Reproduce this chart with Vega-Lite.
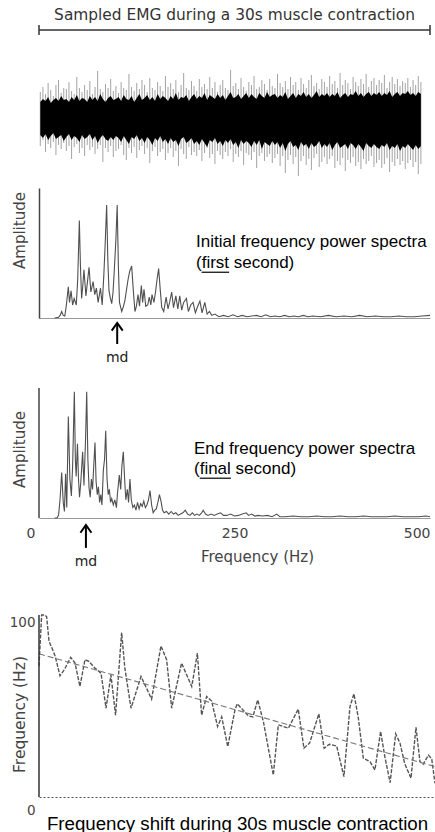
{
  "$schema": "https://vega.github.io/schema/vega-lite/v6.json",
  "padding": {"left": 9, "top": 0, "right": 0, "bottom": 0},
  "spacing": 6,
  "bounds": "flush",
  "config": {"view": {"stroke": null}, "axis": {"grid": false, "titleFontWeight": "normal"}},
  "datasets": {
    "emg": [
      {"t":0.1,"hi":26,"lo":-28,"ch":16,"cl":-17},{"t":0.3,"hi":31,"lo":-22,"ch":19,"cl":-20},{"t":0.5,"hi":24,"lo":-34,"ch":17,"cl":-16},{"t":0.7,"hi":35,"lo":-26,"ch":21,"cl":-22},{"t":0.9,"hi":28,"lo":-30,"ch":15,"cl":-18},{"t":1.1,"hi":22,"lo":-24,"ch":18,"cl":-15},{"t":1.3,"hi":33,"lo":-37,"ch":20,"cl":-21},{"t":1.5,"hi":38,"lo":-27,"ch":17,"cl":-19},{"t":1.7,"hi":25,"lo":-31,"ch":22,"cl":-17},{"t":1.9,"hi":30,"lo":-25,"ch":18,"cl":-23},
      {"t":2.1,"hi":29,"lo":-33,"ch":19,"cl":-19},{"t":2.3,"hi":36,"lo":-28,"ch":16,"cl":-16},{"t":2.5,"hi":27,"lo":-41,"ch":21,"cl":-22},{"t":2.7,"hi":24,"lo":-29,"ch":18,"cl":-18},{"t":2.9,"hi":41,"lo":-26,"ch":23,"cl":-20},{"t":3.1,"hi":30,"lo":-35,"ch":17,"cl":-24},{"t":3.3,"hi":26,"lo":-30,"ch":20,"cl":-17},{"t":3.5,"hi":33,"lo":-38,"ch":19,"cl":-21},{"t":3.7,"hi":28,"lo":-27,"ch":16,"cl":-19},{"t":3.9,"hi":37,"lo":-32,"ch":22,"cl":-16},
      {"t":4.1,"hi":24,"lo":-29,"ch":18,"cl":-22},{"t":4.3,"hi":31,"lo":-36,"ch":21,"cl":-18},{"t":4.5,"hi":47,"lo":-31,"ch":17,"cl":-25},{"t":4.7,"hi":29,"lo":-27,"ch":24,"cl":-20},{"t":4.9,"hi":26,"lo":-44,"ch":19,"cl":-17},{"t":5.1,"hi":34,"lo":-30,"ch":16,"cl":-21},{"t":5.3,"hi":30,"lo":-34,"ch":20,"cl":-23},{"t":5.5,"hi":39,"lo":-28,"ch":22,"cl":-19},{"t":5.7,"hi":27,"lo":-39,"ch":18,"cl":-22},{"t":5.9,"hi":32,"lo":-33,"ch":19,"cl":-18},
      {"t":6.1,"hi":25,"lo":-31,"ch":21,"cl":-20},{"t":6.3,"hi":36,"lo":-27,"ch":17,"cl":-24},{"t":6.5,"hi":30,"lo":-37,"ch":23,"cl":-18},{"t":6.7,"hi":28,"lo":-42,"ch":19,"cl":-22},{"t":6.9,"hi":44,"lo":-30,"ch":18,"cl":-26},{"t":7.1,"hi":31,"lo":-35,"ch":22,"cl":-19},{"t":7.3,"hi":27,"lo":-29,"ch":16,"cl":-21},{"t":7.5,"hi":35,"lo":-40,"ch":20,"cl":-17},{"t":7.7,"hi":29,"lo":-32,"ch":24,"cl":-23},{"t":7.9,"hi":38,"lo":-28,"ch":18,"cl":-20},
      {"t":8.1,"hi":33,"lo":-36,"ch":20,"cl":-25},{"t":8.3,"hi":26,"lo":-30,"ch":23,"cl":-19},{"t":8.5,"hi":40,"lo":-45,"ch":18,"cl":-22},{"t":8.7,"hi":30,"lo":-33,"ch":21,"cl":-27},{"t":8.9,"hi":28,"lo":-29,"ch":17,"cl":-20},{"t":9.1,"hi":36,"lo":-38,"ch":24,"cl":-23},{"t":9.3,"hi":32,"lo":-34,"ch":19,"cl":-18},{"t":9.5,"hi":27,"lo":-31,"ch":22,"cl":-24},{"t":9.7,"hi":42,"lo":-42,"ch":20,"cl":-21},{"t":9.9,"hi":31,"lo":-35,"ch":17,"cl":-26},
      {"t":10.1,"hi":35,"lo":-30,"ch":22,"cl":-20},{"t":10.3,"hi":29,"lo":-39,"ch":19,"cl":-24},{"t":10.5,"hi":38,"lo":-33,"ch":25,"cl":-22},{"t":10.7,"hi":26,"lo":-48,"ch":18,"cl":-28},{"t":10.9,"hi":33,"lo":-31,"ch":21,"cl":-21},{"t":11.1,"hi":45,"lo":-36,"ch":20,"cl":-19},{"t":11.3,"hi":30,"lo":-41,"ch":23,"cl":-25},{"t":11.5,"hi":28,"lo":-29,"ch":17,"cl":-23},{"t":11.7,"hi":37,"lo":-37,"ch":21,"cl":-20},{"t":11.9,"hi":32,"lo":-34,"ch":24,"cl":-26},
      {"t":12.1,"hi":27,"lo":-38,"ch":19,"cl":-23},{"t":12.3,"hi":39,"lo":-32,"ch":22,"cl":-27},{"t":12.5,"hi":31,"lo":-43,"ch":20,"cl":-21},{"t":12.7,"hi":34,"lo":-35,"ch":25,"cl":-25},{"t":12.9,"hi":29,"lo":-30,"ch":18,"cl":-29},{"t":13.1,"hi":41,"lo":-40,"ch":23,"cl":-22},{"t":13.3,"hi":30,"lo":-36,"ch":21,"cl":-24},{"t":13.5,"hi":36,"lo":-46,"ch":19,"cl":-20},{"t":13.7,"hi":26,"lo":-33,"ch":24,"cl":-26},{"t":13.9,"hi":33,"lo":-37,"ch":20,"cl":-23},
      {"t":14.1,"hi":38,"lo":-41,"ch":23,"cl":-28},{"t":14.3,"hi":30,"lo":-34,"ch":18,"cl":-22},{"t":14.5,"hi":28,"lo":-38,"ch":22,"cl":-25},{"t":14.7,"hi":48,"lo":-31,"ch":26,"cl":-21},{"t":14.9,"hi":32,"lo":-44,"ch":20,"cl":-27},{"t":15.1,"hi":35,"lo":-36,"ch":21,"cl":-24},{"t":15.3,"hi":29,"lo":-39,"ch":24,"cl":-30},{"t":15.5,"hi":40,"lo":-33,"ch":19,"cl":-22},{"t":15.7,"hi":31,"lo":-47,"ch":22,"cl":-26},{"t":15.9,"hi":27,"lo":-35,"ch":25,"cl":-23},
      {"t":16.1,"hi":36,"lo":-37,"ch":20,"cl":-25},{"t":16.3,"hi":33,"lo":-42,"ch":24,"cl":-29},{"t":16.5,"hi":42,"lo":-34,"ch":21,"cl":-23},{"t":16.7,"hi":29,"lo":-50,"ch":19,"cl":-27},{"t":16.9,"hi":31,"lo":-38,"ch":25,"cl":-22},{"t":17.1,"hi":38,"lo":-35,"ch":22,"cl":-31},{"t":17.3,"hi":34,"lo":-43,"ch":20,"cl":-24},{"t":17.5,"hi":28,"lo":-39,"ch":26,"cl":-26},{"t":17.7,"hi":39,"lo":-36,"ch":21,"cl":-28},{"t":17.9,"hi":32,"lo":-45,"ch":23,"cl":-23},
      {"t":18.1,"hi":30,"lo":-40,"ch":24,"cl":-27},{"t":18.3,"hi":44,"lo":-36,"ch":20,"cl":-24},{"t":18.5,"hi":35,"lo":-48,"ch":23,"cl":-30},{"t":18.7,"hi":31,"lo":-38,"ch":21,"cl":-25},{"t":18.9,"hi":37,"lo":-55,"ch":26,"cl":-33},{"t":19.1,"hi":29,"lo":-42,"ch":19,"cl":-26},{"t":19.3,"hi":41,"lo":-37,"ch":22,"cl":-23},{"t":19.5,"hi":33,"lo":-46,"ch":25,"cl":-29},{"t":19.7,"hi":36,"lo":-39,"ch":20,"cl":-27},{"t":19.9,"hi":28,"lo":-58,"ch":24,"cl":-32},
      {"t":20.1,"hi":40,"lo":-43,"ch":22,"cl":-24},{"t":20.3,"hi":34,"lo":-38,"ch":26,"cl":-28},{"t":20.5,"hi":30,"lo":-47,"ch":21,"cl":-26},{"t":20.7,"hi":38,"lo":-41,"ch":24,"cl":-31},{"t":20.9,"hi":43,"lo":-52,"ch":20,"cl":-25},{"t":21.1,"hi":32,"lo":-40,"ch":23,"cl":-29},{"t":21.3,"hi":35,"lo":-36,"ch":27,"cl":-27},{"t":21.5,"hi":29,"lo":-49,"ch":21,"cl":-23},{"t":21.7,"hi":39,"lo":-44,"ch":24,"cl":-30},{"t":21.9,"hi":36,"lo":-39,"ch":22,"cl":-26},
      {"t":22.1,"hi":31,"lo":-46,"ch":25,"cl":-29},{"t":22.3,"hi":42,"lo":-41,"ch":21,"cl":-25},{"t":22.5,"hi":34,"lo":-38,"ch":24,"cl":-32},{"t":22.7,"hi":37,"lo":-50,"ch":22,"cl":-27},{"t":22.9,"hi":30,"lo":-43,"ch":26,"cl":-24},{"t":23.1,"hi":45,"lo":-47,"ch":20,"cl":-30},{"t":23.3,"hi":33,"lo":-40,"ch":23,"cl":-28},{"t":23.5,"hi":38,"lo":-53,"ch":25,"cl":-26},{"t":23.7,"hi":35,"lo":-42,"ch":21,"cl":-31},{"t":23.9,"hi":29,"lo":-45,"ch":24,"cl":-25},
      {"t":24.1,"hi":41,"lo":-39,"ch":23,"cl":-27},{"t":24.3,"hi":36,"lo":-48,"ch":27,"cl":-31},{"t":24.5,"hi":32,"lo":-44,"ch":22,"cl":-26},{"t":24.7,"hi":39,"lo":-51,"ch":25,"cl":-29},{"t":24.9,"hi":34,"lo":-41,"ch":21,"cl":-33},{"t":25.1,"hi":44,"lo":-46,"ch":24,"cl":-25},{"t":25.3,"hi":31,"lo":-43,"ch":26,"cl":-28},{"t":25.5,"hi":37,"lo":-38,"ch":22,"cl":-30},{"t":25.7,"hi":40,"lo":-49,"ch":25,"cl":-26},{"t":25.9,"hi":33,"lo":-45,"ch":23,"cl":-29},
      {"t":26.1,"hi":38,"lo":-42,"ch":26,"cl":-31},{"t":26.3,"hi":35,"lo":-50,"ch":22,"cl":-27},{"t":26.5,"hi":43,"lo":-46,"ch":25,"cl":-29},{"t":26.7,"hi":30,"lo":-40,"ch":23,"cl":-25},{"t":26.9,"hi":36,"lo":-54,"ch":27,"cl":-32},{"t":27.1,"hi":41,"lo":-44,"ch":21,"cl":-28},{"t":27.3,"hi":34,"lo":-48,"ch":24,"cl":-30},{"t":27.5,"hi":39,"lo":-41,"ch":26,"cl":-26},{"t":27.7,"hi":32,"lo":-47,"ch":22,"cl":-33},{"t":27.9,"hi":37,"lo":-43,"ch":25,"cl":-28},
      {"t":28.1,"hi":35,"lo":-51,"ch":24,"cl":-30},{"t":28.3,"hi":40,"lo":-45,"ch":27,"cl":-26},{"t":28.5,"hi":31,"lo":-42,"ch":23,"cl":-29},{"t":28.7,"hi":38,"lo":-49,"ch":25,"cl":-32},{"t":28.9,"hi":33,"lo":-44,"ch":22,"cl":-27},{"t":29.1,"hi":42,"lo":-56,"ch":26,"cl":-31},{"t":29.3,"hi":36,"lo":-46,"ch":24,"cl":-28}
    ],
    "initial": [
      {"hz":20,"amp":0},{"hz":25,"amp":0.5},{"hz":27,"amp":2},{"hz":29,"amp":5},{"hz":31,"amp":2},{"hz":33,"amp":1.5},{"hz":35,"amp":10},{"hz":37.5,"amp":24},{"hz":39,"amp":12},{"hz":41,"amp":21},{"hz":43,"amp":10},{"hz":45,"amp":15},{"hz":47.7,"amp":10},{"hz":49.5,"amp":30},{"hz":51.6,"amp":75},{"hz":53,"amp":40},{"hz":54.5,"amp":15},{"hz":56,"amp":25},{"hz":57.5,"amp":37},{"hz":60,"amp":17},{"hz":62,"amp":28},{"hz":64,"amp":39},{"hz":66.3,"amp":20},{"hz":69.2,"amp":28},{"hz":71.3,"amp":18},{"hz":73.4,"amp":23},{"hz":75.6,"amp":12},{"hz":78.6,"amp":23},{"hz":80.8,"amp":10},{"hz":82.9,"amp":33},{"hz":84.5,"amp":55},{"hz":86.5,"amp":87},{"hz":88,"amp":45},{"hz":89.5,"amp":21},{"hz":91,"amp":16},{"hz":93,"amp":11},{"hz":94.7,"amp":20},{"hz":96.3,"amp":37},{"hz":98.3,"amp":60},{"hz":100,"amp":87},{"hz":101.5,"amp":40},{"hz":102.9,"amp":12},{"hz":105.8,"amp":5},{"hz":108,"amp":9},{"hz":110,"amp":14},{"hz":112,"amp":22},{"hz":114,"amp":30},{"hz":116,"amp":36},{"hz":118.5,"amp":40},{"hz":120.5,"amp":22},{"hz":122.7,"amp":5},{"hz":124.5,"amp":9},{"hz":126.6,"amp":18},{"hz":128.5,"amp":9},{"hz":130.9,"amp":25},{"hz":132.5,"amp":12},{"hz":134.3,"amp":22},{"hz":136.5,"amp":9},{"hz":139,"amp":10},{"hz":141,"amp":16},{"hz":143,"amp":10},{"hz":144.5,"amp":18},{"hz":147,"amp":12},{"hz":149,"amp":20},{"hz":151,"amp":30},{"hz":153,"amp":38},{"hz":155,"amp":22},{"hz":157,"amp":8},{"hz":159.5,"amp":5},{"hz":162.5,"amp":16},{"hz":165,"amp":7},{"hz":167,"amp":12},{"hz":169.7,"amp":20},{"hz":172,"amp":8},{"hz":175,"amp":17},{"hz":177.5,"amp":7},{"hz":180,"amp":17},{"hz":182.5,"amp":6},{"hz":185,"amp":12},{"hz":188.5,"amp":15},{"hz":191,"amp":5},{"hz":194,"amp":10},{"hz":197,"amp":12},{"hz":200,"amp":4},{"hz":203,"amp":9},{"hz":205.8,"amp":13},{"hz":208.5,"amp":4},{"hz":212,"amp":12},{"hz":215,"amp":3},{"hz":218,"amp":5},{"hz":221,"amp":2},{"hz":225,"amp":3},{"hz":230,"amp":1},{"hz":236,"amp":2},{"hz":242,"amp":1},{"hz":248,"amp":2.5},{"hz":254,"amp":1},{"hz":260,"amp":2},{"hz":266,"amp":1},{"hz":272,"amp":1.5},{"hz":278,"amp":2},{"hz":284,"amp":1},{"hz":290,"amp":2.5},{"hz":296,"amp":1},{"hz":302,"amp":1.5},{"hz":308,"amp":1},{"hz":314,"amp":2},{"hz":320,"amp":1},{"hz":326,"amp":1.5},{"hz":332,"amp":1},{"hz":338,"amp":2},{"hz":344,"amp":1},{"hz":350,"amp":1.5},{"hz":360,"amp":1},{"hz":370,"amp":2},{"hz":380,"amp":1},{"hz":390,"amp":1.5},{"hz":400,"amp":1},{"hz":410,"amp":2},{"hz":420,"amp":1},{"hz":430,"amp":1.5},{"hz":440,"amp":1},{"hz":450,"amp":1},{"hz":460,"amp":1.5},{"hz":470,"amp":1},{"hz":480,"amp":1},{"hz":490,"amp":1.5},{"hz":500,"amp":2}
    ],
    "final": [
      {"hz":20,"amp":0},{"hz":23,"amp":0},{"hz":25,"amp":2},{"hz":27,"amp":15},{"hz":29,"amp":35},{"hz":31,"amp":12},{"hz":32.5,"amp":5},{"hz":34,"amp":34},{"hz":35.5,"amp":8},{"hz":37.5,"amp":78},{"hz":39.5,"amp":30},{"hz":41.4,"amp":17},{"hz":43,"amp":40},{"hz":45.2,"amp":97},{"hz":46.5,"amp":45},{"hz":47.5,"amp":32},{"hz":49.2,"amp":57},{"hz":50.5,"amp":30},{"hz":51.8,"amp":16},{"hz":53.5,"amp":28},{"hz":55.8,"amp":51},{"hz":57.5,"amp":25},{"hz":59.5,"amp":60},{"hz":61,"amp":97},{"hz":62.5,"amp":45},{"hz":64,"amp":23},{"hz":65.5,"amp":16},{"hz":67,"amp":30},{"hz":68.5,"amp":22},{"hz":70,"amp":40},{"hz":71.6,"amp":58},{"hz":73,"amp":28},{"hz":74.5,"amp":18},{"hz":76,"amp":24},{"hz":77.5,"amp":12},{"hz":79,"amp":18},{"hz":80.5,"amp":10},{"hz":82.3,"amp":37},{"hz":83.8,"amp":45},{"hz":85.3,"amp":67},{"hz":87,"amp":30},{"hz":88.5,"amp":18},{"hz":90,"amp":22},{"hz":91.5,"amp":12},{"hz":93,"amp":15},{"hz":95,"amp":10},{"hz":97,"amp":14},{"hz":99,"amp":8},{"hz":100.5,"amp":20},{"hz":102.7,"amp":33},{"hz":104.5,"amp":22},{"hz":106,"amp":40},{"hz":107.8,"amp":51},{"hz":109.5,"amp":30},{"hz":111,"amp":14},{"hz":113,"amp":22},{"hz":114.5,"amp":12},{"hz":116.3,"amp":30},{"hz":118,"amp":14},{"hz":120,"amp":8},{"hz":122,"amp":10},{"hz":124,"amp":6},{"hz":126,"amp":12},{"hz":128,"amp":7},{"hz":130,"amp":11},{"hz":132,"amp":9},{"hz":134,"amp":13},{"hz":136,"amp":8},{"hz":138,"amp":10},{"hz":140,"amp":14},{"hz":142,"amp":21},{"hz":144,"amp":10},{"hz":146,"amp":4},{"hz":148,"amp":6},{"hz":150,"amp":7},{"hz":152,"amp":12},{"hz":154,"amp":18},{"hz":156,"amp":13},{"hz":158,"amp":6},{"hz":160,"amp":4},{"hz":163,"amp":5},{"hz":166,"amp":3},{"hz":169,"amp":5},{"hz":172,"amp":3},{"hz":175,"amp":4},{"hz":178,"amp":2},{"hz":181,"amp":3},{"hz":184,"amp":4},{"hz":187,"amp":6},{"hz":190,"amp":3},{"hz":193,"amp":2},{"hz":196,"amp":4},{"hz":199,"amp":2},{"hz":202,"amp":3},{"hz":205,"amp":2},{"hz":208,"amp":4},{"hz":210,"amp":6},{"hz":213,"amp":3},{"hz":216,"amp":2},{"hz":220,"amp":3},{"hz":224,"amp":2},{"hz":228,"amp":3},{"hz":232,"amp":4},{"hz":236,"amp":2},{"hz":240,"amp":2},{"hz":245,"amp":3},{"hz":250,"amp":1.5},{"hz":255,"amp":2},{"hz":260,"amp":3},{"hz":265,"amp":4},{"hz":268,"amp":2},{"hz":272,"amp":3},{"hz":276,"amp":1.5},{"hz":280,"amp":2},{"hz":286,"amp":1.5},{"hz":292,"amp":2},{"hz":298,"amp":1},{"hz":304,"amp":3},{"hz":308,"amp":1},{"hz":315,"amp":1},{"hz":325,"amp":1.5},{"hz":335,"amp":1},{"hz":345,"amp":1},{"hz":355,"amp":1.5},{"hz":365,"amp":1},{"hz":375,"amp":1},{"hz":385,"amp":1.5},{"hz":395,"amp":1},{"hz":405,"amp":1},{"hz":415,"amp":1.5},{"hz":425,"amp":1},{"hz":435,"amp":1},{"hz":445,"amp":1},{"hz":455,"amp":1.5},{"hz":465,"amp":1},{"hz":475,"amp":1},{"hz":485,"amp":1},{"hz":495,"amp":1.5},{"hz":500,"amp":1}
    ],
    "shift": [
      {"t":0,"f":72},{"t":0.2,"f":100},{"t":0.45,"f":100},{"t":0.58,"f":99},{"t":0.76,"f":85.5},{"t":1.09,"f":80},{"t":1.24,"f":77},{"t":1.59,"f":66.6},{"t":1.92,"f":70},{"t":2.4,"f":76.7},{"t":2.73,"f":73.6},{"t":3.1,"f":60.7},{"t":3.48,"f":75.4},{"t":3.78,"f":74.5},{"t":4.24,"f":70.8},{"t":4.7,"f":68},{"t":5.08,"f":48.8},{"t":5.45,"f":67},{"t":5.8,"f":45},{"t":6.26,"f":90.4},{"t":6.5,"f":71},{"t":6.97,"f":48.8},{"t":7.73,"f":66.2},{"t":8.53,"f":53.8},{"t":9.24,"f":83},{"t":9.67,"f":75.4},{"t":10.05,"f":48.8},{"t":10.8,"f":73.6},{"t":11.57,"f":60.7},{"t":12,"f":79},{"t":12.32,"f":45},{"t":12.7,"f":55.2},{"t":13.08,"f":52.7},{"t":13.53,"f":38.7},{"t":13.84,"f":44},{"t":14.3,"f":27.7},{"t":14.85,"f":48},{"t":15.02,"f":51.2},{"t":15.86,"f":44.6},{"t":16.2,"f":44},{"t":16.57,"f":53.4},{"t":17,"f":41.4},{"t":17.75,"f":12.1},{"t":18.13,"f":39.6},{"t":18.89,"f":37.8},{"t":19.64,"f":48.3},{"t":20.07,"f":26.8},{"t":20.5,"f":29.6},{"t":21.2,"f":45.7},{"t":21.6,"f":26.8},{"t":22,"f":29},{"t":22.55,"f":28},{"t":23.1,"f":11.2},{"t":23.56,"f":49.7},{"t":23.86,"f":56.7},{"t":24.19,"f":43.5},{"t":24.57,"f":21.3},{"t":25.08,"f":19.4},{"t":25.45,"f":14.9},{"t":25.88,"f":36},{"t":26.2,"f":22.2},{"t":26.6,"f":7.9},{"t":27.02,"f":34.7},{"t":27.35,"f":29.6},{"t":27.7,"f":18.5},{"t":28.18,"f":10.3},{"t":28.56,"f":38.3},{"t":28.86,"f":19.4},{"t":29.1,"f":18},{"t":29.5,"f":23},{"t":29.75,"f":21},{"t":30,"f":7.5}
    ],
    "trend": [{"t":0,"f":78.7},{"t":30,"f":16.7}]
  },
  "vconcat": [
    {
      "width": 391, "height": 182,
      "layer": [
        {"data": {"name": "emg"},
         "mark": {"type": "rule", "color": "#666", "opacity": 0.6, "strokeWidth": 1},
         "encoding": {
           "x": {"field": "t", "type": "quantitative", "scale": {"domain": [0, 30], "nice": false}, "axis": null},
           "y": {"field": "lo", "type": "quantitative", "scale": {"domain": [-64, 118], "nice": false, "zero": false}, "axis": null},
           "y2": {"field": "hi"}}},
        {"data": {"name": "emg"},
         "mark": {"type": "area", "color": "#000", "opacity": 1},
         "encoding": {
           "x": {"field": "t", "type": "quantitative", "axis": null},
           "y": {"field": "cl", "type": "quantitative", "axis": null},
           "y2": {"field": "ch"}}},
        {"data": {"values": [{}]},
         "mark": {"type": "rule", "color": "#333", "strokeWidth": 1.5},
         "encoding": {"x": {"datum": 0, "axis": null}, "x2": {"datum": 30}, "y": {"datum": 88, "axis": null}}},
        {"data": {"values": [{}]},
         "mark": {"type": "rule", "color": "#333", "strokeWidth": 1.5},
         "encoding": {"x": {"datum": 0, "axis": null}, "y": {"datum": 83, "axis": null}, "y2": {"datum": 93}}},
        {"data": {"values": [{}]},
         "mark": {"type": "rule", "color": "#333", "strokeWidth": 1.5},
         "encoding": {"x": {"datum": 30, "axis": null}, "y": {"datum": 83, "axis": null}, "y2": {"datum": 93}}},
        {"data": {"values": [{}]},
         "mark": {"type": "text", "text": "Sampled EMG during a 30s muscle contraction", "font": "DejaVu Sans", "fontSize": 15.4, "color": "#333", "align": "center", "baseline": "middle"},
         "encoding": {"x": {"datum": 15, "axis": null}, "y": {"datum": 103, "axis": null}}}
      ]
    },
    {
      "width": 391, "height": 130,
      "layer": [
        {"data": {"name": "initial"},
         "mark": {"type": "line", "color": "#505050", "strokeWidth": 1.1},
         "encoding": {
           "x": {"field": "hz", "type": "quantitative", "scale": {"domain": [0, 500], "nice": false},
                 "axis": {"title": null, "labels": false, "ticks": false, "domainColor": "#999", "domainWidth": 1}},
           "y": {"field": "amp", "type": "quantitative", "scale": {"domain": [0, 100], "nice": false},
                 "axis": {"title": "Amplitude", "labels": false, "ticks": false, "domainColor": "#444", "domainWidth": 1.5,
                          "titleFont": "DejaVu Sans", "titleFontSize": 15, "titleColor": "#444", "titleX": -20, "titleY": 42, "titleBaseline": "middle"}}}},
        {"data": {"values": [{}]},
         "mark": {"type": "text", "text": "Initial frequency power spectra", "font": "Liberation Sans", "fontSize": 17, "color": "#000", "align": "left", "baseline": "alphabetic"},
         "encoding": {"x": {"datum": 200.8}, "y": {"datum": 54.6}}},
        {"data": {"values": [{}]},
         "mark": {"type": "text", "text": "(first second)", "font": "Liberation Sans", "fontSize": 17, "color": "#000", "align": "left", "baseline": "alphabetic"},
         "encoding": {"x": {"datum": 200.8}, "y": {"datum": 38.5}}},
        {"data": {"values": [{}]},
         "mark": {"type": "rule", "color": "#000", "strokeWidth": 1.2},
         "encoding": {"x": {"datum": 207.9}, "x2": {"datum": 243.1}, "y": {"datum": 35.2}}},
        {"data": {"values": [{}]},
         "mark": {"type": "rule", "color": "#000", "strokeWidth": 2},
         "encoding": {"x": {"datum": 100}, "y": {"datum": -4}, "y2": {"datum": -20}}},
        {"data": {"values": [{}]},
         "mark": {"type": "point", "shape": "M-1,1.4L0,0L1,1.4", "size": 121, "filled": false, "color": "#000", "strokeWidth": 2, "opacity": 1},
         "encoding": {"x": {"datum": 100}, "y": {"datum": -3.8}}},
        {"data": {"values": [{}]},
         "mark": {"type": "text", "text": "md", "font": "DejaVu Sans", "fontSize": 14, "color": "#222", "align": "center", "baseline": "middle"},
         "encoding": {"x": {"datum": 100}, "y": {"datum": -30.4}}}
      ]
    },
    {
      "width": 391, "height": 194,
      "layer": [
        {"data": {"name": "final"},
         "mark": {"type": "line", "color": "#505050", "strokeWidth": 1.1},
         "encoding": {
           "x": {"field": "hz", "type": "quantitative", "scale": {"domain": [0, 500], "nice": false},
                 "axis": {"title": "Frequency (Hz)", "values": [0, 250, 500], "ticks": false, "domainColor": "#999", "domainWidth": 1,
                          "labelFont": "DejaVu Sans", "labelFontSize": 14, "labelColor": "#444", "labelPadding": 8,
                          "labelAlign": {"condition": {"test": "datum.value == 250", "value": "center"}, "value": "right"},
                          "labelOffset": {"condition": {"test": "datum.value == 0", "value": -4}, "value": 0},
                          "titleFont": "DejaVu Sans", "titleFontSize": 15, "titleColor": "#444", "titleX": 218, "titleY": 43, "titleBaseline": "alphabetic"}},
           "y": {"field": "amp", "type": "quantitative", "scale": {"domain": [0, 149.2], "nice": false},
                 "axis": {"title": "Amplitude", "values": [], "labels": false, "ticks": false, "domain": false,
                          "titleFont": "DejaVu Sans", "titleFontSize": 15, "titleColor": "#444", "titleX": -20, "titleY": 125, "titleBaseline": "middle"}}}},
        {"data": {"values": [{}]},
         "mark": {"type": "rule", "color": "#444", "strokeWidth": 1.5},
         "encoding": {"x": {"datum": 0}, "y": {"datum": 0}, "y2": {"datum": 100}}},
        {"data": {"values": [{}]},
         "mark": {"type": "text", "text": "End frequency power spectra", "font": "Liberation Sans", "fontSize": 17, "color": "#000", "align": "left", "baseline": "alphabetic"},
         "encoding": {"x": {"datum": 198.2}, "y": {"datum": 49.2}}},
        {"data": {"values": [{}]},
         "mark": {"type": "text", "text": "(final second)", "font": "Liberation Sans", "fontSize": 17, "color": "#000", "align": "left", "baseline": "alphabetic"},
         "encoding": {"x": {"datum": 198.2}, "y": {"datum": 33.8}}},
        {"data": {"values": [{}]},
         "mark": {"type": "rule", "color": "#000", "strokeWidth": 1.2},
         "encoding": {"x": {"datum": 205.5}, "x2": {"datum": 245.4}, "y": {"datum": 30.6}}},
        {"data": {"values": [{}]},
         "mark": {"type": "rule", "color": "#000", "strokeWidth": 2},
         "encoding": {"x": {"datum": 60}, "y": {"datum": -5.6}, "y2": {"datum": -23}}},
        {"data": {"values": [{}]},
         "mark": {"type": "point", "shape": "M-1,1.4L0,0L1,1.4", "size": 121, "filled": false, "color": "#000", "strokeWidth": 2, "opacity": 1},
         "encoding": {"x": {"datum": 60}, "y": {"datum": -5.4}}},
        {"data": {"values": [{}]},
         "mark": {"type": "text", "text": "md", "font": "DejaVu Sans", "fontSize": 14, "color": "#222", "align": "center", "baseline": "middle"},
         "encoding": {"x": {"datum": 60}, "y": {"datum": -33.5}}}
      ]
    },
    {
      "width": 396, "height": 273,
      "layer": [
        {"data": {"name": "shift"},
         "mark": {"type": "line", "color": "#555", "strokeWidth": 1.4, "strokeDash": [4, 1.5]},
         "encoding": {
           "x": {"field": "t", "type": "quantitative", "scale": {"domain": [0, 30], "nice": false},
                 "axis": {"title": "Frequency shift during 30s muscle contraction", "labels": false, "ticks": false,
                          "domainColor": "#555", "domainDash": [2, 2], "domainWidth": 1,
                          "titleFont": "Liberation Sans", "titleFontSize": 18.7, "titleColor": "#000", "titleY": 32, "titleBaseline": "alphabetic"}},
           "y": {"field": "f", "type": "quantitative", "scale": {"domain": [0, 150], "nice": false},
                 "axis": {"title": "Frequency (Hz)", "values": [0, 100], "ticks": false, "domain": false,
                          "labelFont": "DejaVu Sans", "labelFontSize": 13.5, "labelColor": "#444", "labelPadding": 4, "labelBaseline": "middle",
                          "labelOffset": {"condition": {"test": "datum.value == 0", "value": 13}, "value": 7},
                          "titleFont": "DejaVu Sans", "titleFontSize": 15.5, "titleColor": "#444", "titleX": -20, "titleY": 190, "titleBaseline": "middle"}}}},
        {"data": {"name": "trend"},
         "mark": {"type": "line", "color": "#777", "strokeWidth": 1.1, "strokeDash": [6, 3]},
         "encoding": {
           "x": {"field": "t", "type": "quantitative"},
           "y": {"field": "f", "type": "quantitative"}}},
        {"data": {"values": [{}]},
         "mark": {"type": "rule", "color": "#333", "strokeWidth": 1.5},
         "encoding": {"x": {"datum": 0}, "y": {"datum": 0}, "y2": {"datum": 100}}}
      ]
    }
  ]
}
